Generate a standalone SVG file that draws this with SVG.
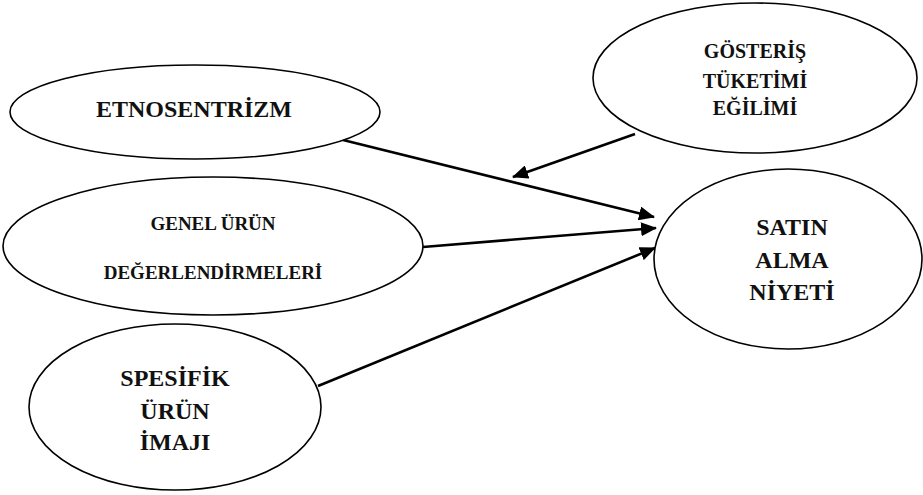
<svg xmlns="http://www.w3.org/2000/svg" width="923" height="495" viewBox="0 0 923 495">
<style>
.n ellipse{fill:#fff;stroke:#000;stroke-width:1.6}
.n text{font-family:"Liberation Serif","Times New Roman",serif;font-weight:bold;text-anchor:middle;fill:#111}
.c line{stroke:#000;stroke-width:2.6}
</style>
<defs>
<marker id="ah" markerWidth="16" markerHeight="14" refX="15" refY="7" orient="auto" markerUnits="userSpaceOnUse">
<path d="M0,0 L16,7 L0,14 Z" fill="#000"/>
</marker>
</defs>
<rect width="923" height="495" fill="#fff"/>
<g class="c">
<line x1="343" y1="140" x2="654" y2="217" marker-end="url(#ah)"/>
<line x1="423" y1="247" x2="656" y2="228" marker-end="url(#ah)"/>
<line x1="318" y1="386" x2="655" y2="248" marker-end="url(#ah)"/>
<line x1="635" y1="134" x2="513" y2="177" marker-end="url(#ah)"/>
</g>
<g id="etnosentrizm" class="n">
<ellipse cx="195" cy="112" rx="185" ry="47"/>
<text x="194" y="117" font-size="24">ETNOSENTRİZM</text>
</g>
<g id="gosteris" class="n">
<ellipse cx="755" cy="78" rx="162" ry="75"/>
<text x="755" y="58" font-size="20">GÖSTERİŞ</text>
<text x="755" y="88" font-size="20">TÜKETİMİ</text>
<text x="755" y="115" font-size="20">EĞİLİMİ</text>
</g>
<g id="genel" class="n">
<ellipse cx="213" cy="246" rx="210" ry="69"/>
<text x="213" y="230" font-size="19">GENEL ÜRÜN</text>
<text x="213" y="279" font-size="19">DEĞERLENDİRMELERİ</text>
</g>
<g id="spesifik" class="n">
<ellipse cx="175" cy="407" rx="146" ry="83"/>
<text x="175" y="386" font-size="24">SPESİFİK</text>
<text x="175" y="419" font-size="24">ÜRÜN</text>
<text x="175" y="450" font-size="24">İMAJI</text>
</g>
<g id="satin" class="n">
<ellipse cx="788" cy="259" rx="134" ry="90"/>
<text x="792" y="235" font-size="24">SATIN</text>
<text x="792" y="268" font-size="24">ALMA</text>
<text x="792" y="300" font-size="24">NİYETİ</text>
</g>
</svg>
